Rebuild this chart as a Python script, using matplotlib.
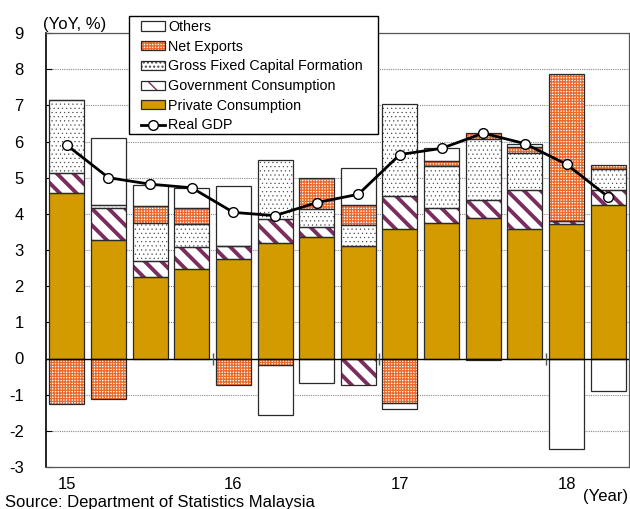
import matplotlib
matplotlib.use('Agg')
import matplotlib.pyplot as plt
from matplotlib.patches import Patch, Rectangle
from matplotlib.lines import Line2D
import numpy as np

# ---- data (contribution to Real GDP growth, YoY %) ----
quarters = ['2015Q1', '2015Q2', '2015Q3', '2015Q4',
            '2016Q1', '2016Q2', '2016Q3', '2016Q4',
            '2017Q1', '2017Q2', '2017Q3', '2017Q4',
            '2018Q1', '2018Q2']
year_labels = ['15', '16', '17', '18']
private = [4.58, 3.29, 2.24, 2.48, 2.76, 3.19, 3.37, 3.11, 3.59, 3.76, 3.89, 3.59, 3.73, 4.25]
gov = [0.54, 0.86, 0.46, 0.60, 0.34, 0.68, 0.26, -0.72, 0.91, 0.41, 0.50, 1.06, 0.07, 0.40]
gfcf = [2.03, 0.09, 1.05, 0.65, 0.00, 1.63, 0.50, 0.58, 2.54, 1.14, 1.68, 1.02, 0.00, 0.59]
netex = [-1.25, -1.12, 0.48, 0.42, -0.72, -0.17, 0.86, 0.55, -1.23, 0.14, 0.16, 0.19, 4.07, 0.11]
others = [0.00, 1.87, 0.58, 0.57, 1.66, -1.39, -0.68, 1.03, -0.16, 0.36, -0.03, 0.08, -2.49, -0.91]
gdp = [5.90, 5.00, 4.82, 4.72, 4.04, 3.95, 4.31, 4.54, 5.64, 5.81, 6.23, 5.94, 5.37, 4.47]

plt.rcParams['font.family'] = ['Liberation Sans', 'DejaVu Sans']
plt.rcParams['axes.unicode_minus'] = False

fig = plt.figure(figsize=(6.3, 5.09), dpi=100)
ax = fig.add_axes([46 / 630, 1 - 467 / 509, 583 / 630, 434 / 509])

n = len(quarters)
x = np.arange(n)
width = 0.84

GOLD = '#D29B00'
PURPLE = '#7B2D5E'
ORANGE = '#EA6A2C'
EDGE = '#2a2a2a'

styles = {
    'Private Consumption': dict(face=GOLD, hatch=None, hcolor='none', hlw=1.0),
    'Government Consumption': dict(face='white', hatch='\\\\', hcolor=PURPLE, hlw=2.8),
    'Gross Fixed Capital Formation': dict(face='white', hatch='....', hcolor='#444444', hlw=0.35),
    'Net Exports': dict(face='white', hatch='++++++', hcolor=ORANGE, hlw=0.95),
    'Others': dict(face='white', hatch=None, hcolor='none', hlw=1.0),
}
series = [('Private Consumption', private),
          ('Government Consumption', gov),
          ('Gross Fixed Capital Formation', gfcf),
          ('Net Exports', netex),
          ('Others', others)]


def set_hlw(patch, lw):
    if hasattr(patch, 'set_hatch_linewidth'):
        patch.set_hatch_linewidth(lw)


pos_base = np.zeros(n)
neg_base = np.zeros(n)
legend_handles = {}
for name, vals in series:
    st = styles[name]
    v = np.array(vals, dtype=float)
    bottoms = np.where(v >= 0, pos_base, neg_base)
    with plt.rc_context({'hatch.linewidth': st['hlw']}):
        bars = ax.bar(x, v, width, bottom=bottoms, color=st['face'],
                      edgecolor=st['hcolor'], linewidth=0, hatch=st['hatch'],
                      zorder=2)
        for b in bars:
            set_hlw(b, st['hlw'])
        ax.bar(x, v, width, bottom=bottoms, fill=False, edgecolor=EDGE,
               linewidth=0.9, zorder=3)
        h1 = Patch(facecolor=st['face'], edgecolor=st['hcolor'], linewidth=0,
                   hatch=st['hatch'])
        set_hlw(h1, st['hlw'])
    h2 = Patch(fill=False, edgecolor=EDGE, linewidth=0.9)
    legend_handles[name] = (h1, h2)
    pos_base += np.where(v > 0, v, 0)
    neg_base += np.where(v < 0, v, 0)

ax.axhline(0, color='black', lw=1.0, zorder=4)

# year boundary marks on the zero line
boundaries = [4 * k - 0.5 for k in range(1, len(year_labels))]
ax.plot(boundaries, [0] * len(boundaries), ls='none', marker='|', ms=8,
        mew=1.0, color='#555555', zorder=4)

# Real GDP line
ax.plot(x, gdp, color='black', lw=2.0, marker='o', ms=7, mfc='white',
        mec='black', mew=1.0, zorder=6)

ax.set_xlim(-0.5, n - 0.5)
ax.set_ylim(-3, 9)
ax.set_yticks(range(-3, 10))
ax.set_xticks([4 * i for i in range(len(year_labels))])
ax.set_xticklabels(year_labels)
ax.tick_params(axis='x', length=0, labelsize=12, pad=7)
ax.tick_params(axis='y', direction='in', length=4, labelsize=12, pad=16)
ax.yaxis.grid(True, linestyle=(0, (1, 1)), color='#8a8a8a', lw=0.8)
ax.set_axisbelow(True)
for s in ['top', 'right', 'bottom']:
    ax.spines[s].set_color('#555555')
    ax.spines[s].set_linewidth(0.9)
ax.spines['left'].set_linewidth(1.2)

# legend frame and legend (figure level, above the axes)
frame = Rectangle((129 / 630, 1 - 134 / 509), 249 / 630, 118 / 509,
                  transform=fig.transFigure, facecolor='white',
                  edgecolor='black', linewidth=1.0, zorder=4)
fig.patches.append(frame)

gdp_handle = Line2D([], [], color='black', lw=2.0, marker='o', ms=7,
                    mfc='white', mec='black', mew=1.0)
order = ['Others', 'Net Exports', 'Gross Fixed Capital Formation',
         'Government Consumption', 'Private Consumption']
handles = [legend_handles[k] for k in order] + [gdp_handle]
labels = order + ['Real GDP']
leg = fig.legend(handles, labels, loc='upper left',
                 bbox_to_anchor=(141 / 630, 1 - 20 / 509),
                 bbox_transform=fig.transFigure, borderaxespad=0,
                 fontsize=10.25, frameon=False, handlelength=1.7,
                 handleheight=0.6, handletextpad=0.2, labelspacing=0.4,
                 borderpad=0)
leg.set_zorder(5)

fig.text(43 / 630, 1 - 25 / 509, '(YoY, %)', fontsize=12, va='center', ha='left')
fig.text(5 / 630, 1 - 507 / 509, 'Source: Department of Statistics Malaysia',
         fontsize=12, va='baseline', ha='left')
fig.text(628 / 630, 1 - 497 / 509, '(Year)', fontsize=12, va='center', ha='right')

fig.savefig('out.png', dpi=100)
